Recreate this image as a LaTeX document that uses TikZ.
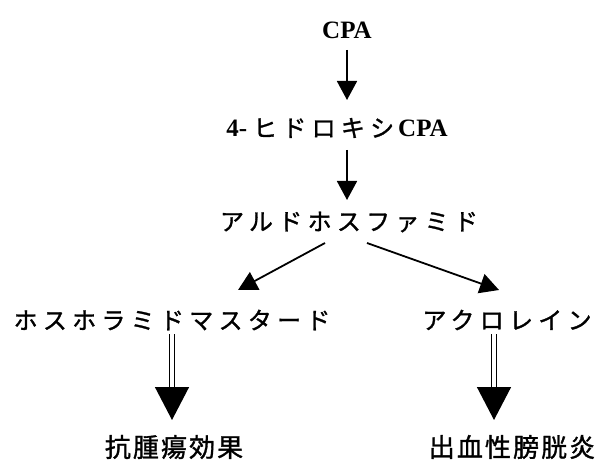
\documentclass[tikz,border=0pt]{standalone}
\usepackage{fontspec}
\setmainfont{Liberation Serif}
\newfontfamily\jp[LetterSpace=22,FakeBold=1.2]{Noto Sans CJK JP}
\newfontfamily\jk[LetterSpace=8,FakeBold=1.2]{Noto Sans CJK JP}
\usetikzlibrary{arrows.meta}
\begin{document}
\begin{tikzpicture}[x=1pt,y=1pt,
  lbl/.style={inner sep=0pt,anchor=center},
  jtxt/.style={lbl,font=\jp\fontsize{24}{28}\selectfont},
  ktxt/.style={lbl,font=\jk\fontsize{26}{30}\selectfont},
  ltxt/.style={lbl,font=\fontsize{25}{28}\selectfont\bfseries},
  arr/.style={line width=1.8pt,-{Triangle[width=20pt,length=19pt]}},
  darr/.style={line width=1.4pt,double distance=3.6pt,-{Triangle[width=34pt,length=33pt]}}]
\useasboundingbox (0,0) rectangle (607,-470);
\node[ltxt] (cpa) at (347,-30) {CPA};
\node[lbl] (hydroxy) at (337,-128) {\fontsize{25}{28}\selectfont\bfseries 4-\hspace{6pt}{\mdseries\jp\fontsize{24}{28}\selectfont ヒドロキシ}\hspace{4pt}CPA};
\node[jtxt] (aldo) at (349,-222) {アルドホスファミド};
\node[jtxt] (phos) at (172,-320) {ホスホラミドマスタード};
\node[jtxt] (acro) at (507,-320) {アクロレイン};
\node[ktxt] (anti) at (174,-447) {抗腫瘍効果};
\node[ktxt] (hemo) at (512,-447) {出血性膀胱炎};
\coordinate (a1s) at (347,-50);
\coordinate (a1e) at (347,-100);
\coordinate (a2s) at (347,-150);
\coordinate (a2e) at (347,-200);
\coordinate (ls) at (325,-243);
\coordinate (le) at (238,-290);
\coordinate (rs) at (367,-243);
\coordinate (re) at (499,-290);
\coordinate (d1s) at (172,-334);
\coordinate (d1e) at (172,-420);
\coordinate (d2s) at (494,-334);
\coordinate (d2e) at (494,-420);
\draw[arr] (a1s) -- (a1e);
\draw[arr] (a2s) -- (a2e);
\draw[arr] (ls) -- (le);
\draw[arr] (rs) -- (re);
\draw[darr] (d1s) -- (d1e);
\draw[darr] (d2s) -- (d2e);
\end{tikzpicture}
\end{document}
